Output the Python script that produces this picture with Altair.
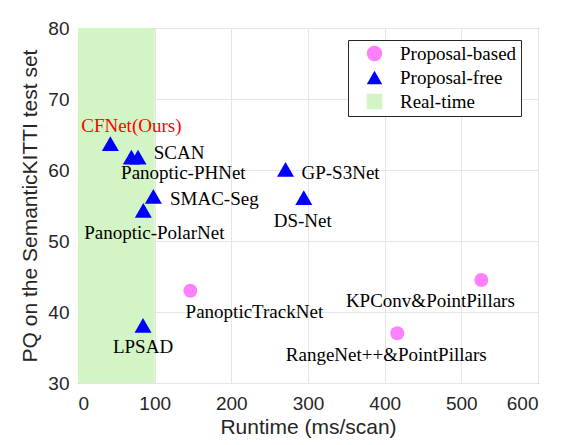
import altair as alt
import pandas as pd

# ---- data ----
names = ["CFNet(Ours)", "SCAN", "Panoptic-PHNet", "SMAC-Seg", "Panoptic-PolarNet",
         "GP-S3Net", "DS-Net", "LPSAD", "PanopticTrackNet",
         "KPConv&PointPillars", "RangeNet++&PointPillars"]
runtime = [42.2, 78.3, 69.6, 98.3, 85.2, 270.7, 294.5, 84.8, 146.6, 526.1, 416.4]
pq = [63.7, 61.8, 61.8, 56.3, 54.3, 60.1, 56.1, 38.1, 43.0, 44.5, 37.0]
category = ["Proposal-free"] * 8 + ["Proposal-based"] * 3

legend_items = ["Proposal-based", "Proposal-free", "Real-time"]
realtime_limit = [0, 100]
x_ticks = [0, 100, 200, 300, 400, 500, 600]
y_ticks = [30, 40, 50, 60, 70, 80]

# ---- styles ----
colors = ["#ff80ff", "#0000ff", "#d3f5c6"]
shapes = ["circle", "triangle-up", "square"]
label_offsets = {
    "CFNet(Ours)": (21, -18),
    "SCAN": (41, -4),
    "Panoptic-PHNet": (52, 16),
    "SMAC-Seg": (61, 3),
    "Panoptic-PolarNet": (11, 23),
    "GP-S3Net": (55, 4),
    "DS-Net": (-1, 23),
    "LPSAD": (0, 22),
    "PanopticTrackNet": (64, 21),
    "KPConv&PointPillars": (-51, 21),
    "RangeNet++&PointPillars": (-11, 22),
}

df = pd.DataFrame({"name": names, "runtime": runtime, "pq": pq, "type": category})
rt = pd.DataFrame({"x0": [realtime_limit[0]], "x1": [realtime_limit[1]],
                   "y0": [y_ticks[0]], "y1": [y_ticks[-1]], "type": ["Real-time"]})

xscale = alt.Scale(domain=[x_ticks[0], x_ticks[-1]], nice=False)
yscale = alt.Scale(domain=[y_ticks[0], y_ticks[-1]], nice=False)
cscale = alt.Scale(domain=legend_items, range=colors)
sscale = alt.Scale(domain=legend_items, range=shapes)

xaxis = alt.Axis(values=x_ticks, title="Runtime (ms/scan)", ticks=False, domain=False,
                 labelPadding=11, titlePadding=3)
yaxis = alt.Axis(values=y_ticks, title="PQ on the SemanticKITTI test set", ticks=False,
                 domain=False, labelPadding=9, titlePadding=7)

band = alt.Chart(rt).mark_rect(opacity=1, strokeWidth=0).encode(
    x=alt.X("x0:Q", scale=xscale, axis=xaxis),
    x2="x1:Q",
    y=alt.Y("y0:Q", scale=yscale, axis=yaxis),
    y2="y1:Q",
    color=alt.Color("type:N", scale=cscale, title=None),
)

base = alt.Chart(df).encode(
    x=alt.X("runtime:Q", scale=xscale, axis=xaxis),
    y=alt.Y("pq:Q", scale=yscale, axis=yaxis),
)

pts = base.mark_point(filled=True, opacity=1, size=260, strokeWidth=0).encode(
    color=alt.Color("type:N", scale=cscale, title=None,
                    legend=alt.Legend(labelExpr="datum.label + ' '")),
    shape=alt.Shape("type:N", scale=sscale, title=None,
                    legend=alt.Legend(labelExpr="datum.label + ' '")),
    size=alt.condition(alt.datum.type == "Proposal-free", alt.value(290), alt.value(196)),
)

texts = []
for n in names:
    dx, dy = label_offsets[n]
    texts.append(
        base.transform_filter(alt.datum.name == n).mark_text(
            dx=dx, dy=dy, align="center", baseline="middle",
            font="Liberation Serif", fontSize=19,
            color="#ff0000" if n == "CFNet(Ours)" else "#000000",
        ).encode(text="name:N")
    )

chart = alt.layer(band, pts, *texts).properties(
    width=460, height=355,
    autosize=alt.AutoSizeParams(type="none"),
    padding={"left": 70, "top": 20, "right": 10, "bottom": 60},
    background="white",
).configure_view(
    stroke="#262626", strokeWidth=1
).configure_axis(
    labelFont="Liberation Sans", labelFontSize=19, labelColor="#262626",
    titleFont="Liberation Sans", titleFontSize=21, titleColor="#262626",
    titleFontWeight="normal", gridColor="#e6e6e6", gridWidth=1,
).configure_legend(
    orient="none", legendX=270, legendY=12,
    strokeColor="#262626", fillColor="white", padding=4,
    labelFont="Liberation Serif", labelFontSize=19, labelColor="#000000",
    symbolSize=240, symbolStrokeWidth=0, symbolOffset=13, labelOffset=16,
    rowPadding=4, cornerRadius=0,
)

chart.save("out.html", embed_options={"renderer": "svg", "actions": False})
